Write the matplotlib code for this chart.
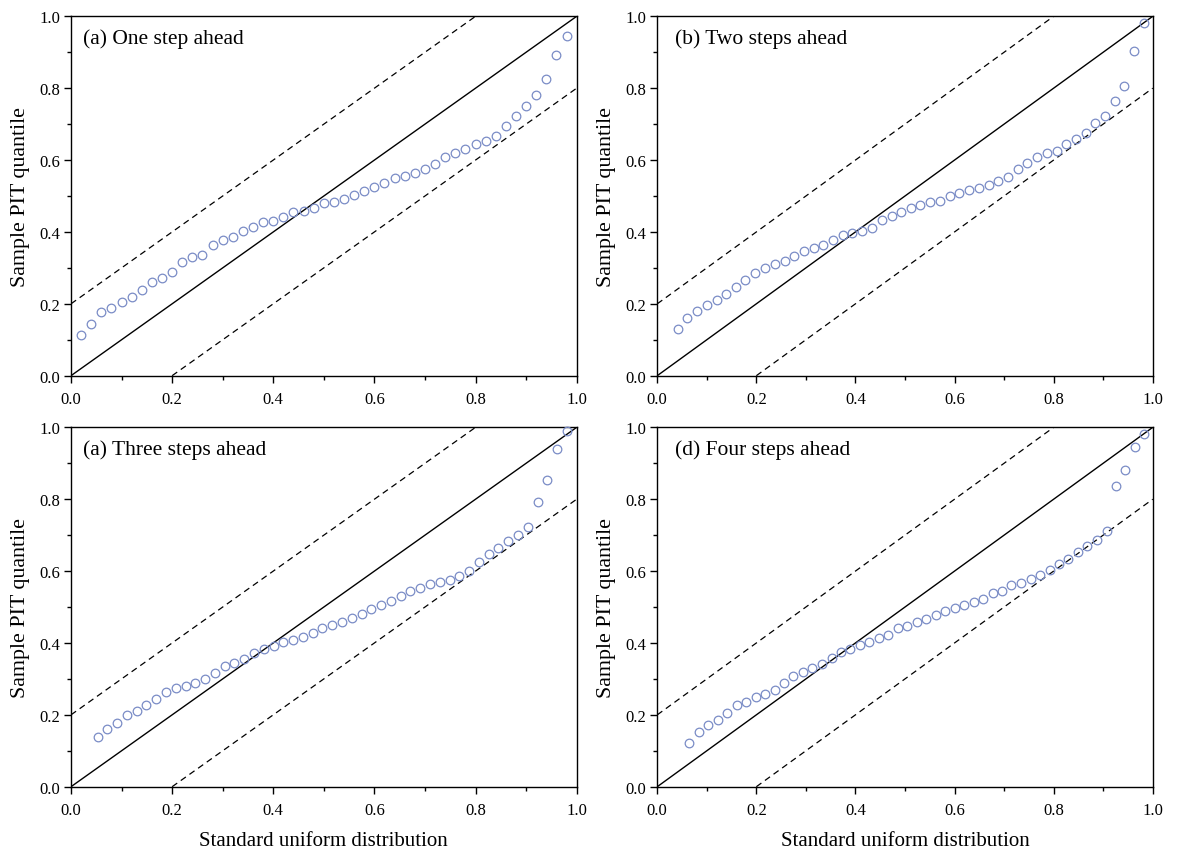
import matplotlib
matplotlib.use("Agg")
import matplotlib.pyplot as plt
from matplotlib.ticker import MultipleLocator

plt.rcParams['font.family'] = ['Liberation Serif', 'DejaVu Serif']
plt.rcParams['mathtext.fontset'] = 'stix'

# panel titles
titles = ["(a) One step ahead", "(b) Two steps ahead",
          "(a) Three steps ahead", "(d) Four steps ahead"]

# uniform quantile (x) and sample PIT quantile (y)
x_one = [0.020, 0.040, 0.060, 0.080, 0.100, 0.120, 0.140, 0.160, 0.180, 0.200,
         0.220, 0.240, 0.260, 0.280, 0.300, 0.320, 0.340, 0.360, 0.380, 0.400,
         0.420, 0.440, 0.460, 0.480, 0.500, 0.520, 0.540, 0.560, 0.580, 0.600,
         0.620, 0.640, 0.660, 0.680, 0.700, 0.720, 0.740, 0.760, 0.780, 0.800,
         0.820, 0.840, 0.860, 0.880, 0.900, 0.920, 0.940, 0.960, 0.980]
y_one = [0.113, 0.144, 0.176, 0.188, 0.204, 0.220, 0.238, 0.260, 0.271, 0.289,
         0.315, 0.329, 0.336, 0.364, 0.377, 0.387, 0.402, 0.415, 0.427, 0.430,
         0.442, 0.456, 0.459, 0.468, 0.480, 0.484, 0.492, 0.504, 0.514, 0.524,
         0.536, 0.550, 0.557, 0.563, 0.574, 0.588, 0.609, 0.619, 0.631, 0.644,
         0.652, 0.667, 0.694, 0.722, 0.751, 0.781, 0.827, 0.892, 0.944]

x_two = [0.041, 0.061, 0.080, 0.100, 0.120, 0.139, 0.159, 0.178, 0.198, 0.218,
         0.237, 0.257, 0.277, 0.296, 0.316, 0.335, 0.355, 0.375, 0.394, 0.414,
         0.433, 0.453, 0.473, 0.492, 0.512, 0.531, 0.551, 0.571, 0.590, 0.610,
         0.629, 0.649, 0.669, 0.688, 0.708, 0.728, 0.747, 0.767, 0.786, 0.806,
         0.826, 0.845, 0.865, 0.884, 0.904, 0.924, 0.943, 0.963, 0.983]
y_two = [0.130, 0.160, 0.179, 0.197, 0.212, 0.227, 0.246, 0.266, 0.287, 0.301,
         0.310, 0.320, 0.332, 0.346, 0.356, 0.365, 0.378, 0.391, 0.397, 0.403,
         0.412, 0.434, 0.445, 0.455, 0.467, 0.476, 0.482, 0.487, 0.500, 0.508,
         0.517, 0.521, 0.531, 0.543, 0.552, 0.575, 0.592, 0.608, 0.620, 0.625,
         0.645, 0.659, 0.674, 0.703, 0.724, 0.764, 0.805, 0.903, 0.981]

x_three = [0.053, 0.072, 0.091, 0.111, 0.130, 0.149, 0.169, 0.188, 0.207, 0.227,
           0.246, 0.265, 0.285, 0.304, 0.323, 0.343, 0.362, 0.381, 0.401, 0.420,
           0.439, 0.459, 0.478, 0.497, 0.517, 0.536, 0.555, 0.575, 0.594, 0.613,
           0.633, 0.652, 0.671, 0.691, 0.710, 0.729, 0.749, 0.768, 0.787, 0.807,
           0.826, 0.845, 0.865, 0.884, 0.903, 0.923, 0.942, 0.961, 0.981]
y_three = [0.138, 0.162, 0.178, 0.199, 0.210, 0.228, 0.245, 0.263, 0.275, 0.281,
           0.290, 0.301, 0.317, 0.336, 0.345, 0.355, 0.372, 0.383, 0.392, 0.403,
           0.408, 0.418, 0.429, 0.442, 0.450, 0.458, 0.470, 0.481, 0.494, 0.507,
           0.517, 0.530, 0.544, 0.553, 0.564, 0.570, 0.576, 0.587, 0.601, 0.624,
           0.648, 0.663, 0.685, 0.700, 0.724, 0.791, 0.853, 0.940, 0.989]

x_four = [0.065, 0.084, 0.103, 0.122, 0.141, 0.160, 0.179, 0.199, 0.218, 0.237,
          0.256, 0.275, 0.294, 0.313, 0.333, 0.352, 0.371, 0.390, 0.409, 0.428,
          0.447, 0.466, 0.486, 0.505, 0.524, 0.543, 0.562, 0.581, 0.600, 0.620,
          0.639, 0.658, 0.677, 0.696, 0.715, 0.734, 0.754, 0.773, 0.792, 0.811,
          0.830, 0.849, 0.868, 0.887, 0.907, 0.926, 0.945, 0.964, 0.983]
y_four = [0.123, 0.151, 0.172, 0.186, 0.204, 0.227, 0.237, 0.250, 0.257, 0.270,
          0.288, 0.308, 0.320, 0.331, 0.341, 0.359, 0.376, 0.382, 0.393, 0.403,
          0.414, 0.423, 0.441, 0.448, 0.459, 0.468, 0.478, 0.488, 0.496, 0.507,
          0.514, 0.523, 0.540, 0.544, 0.560, 0.568, 0.579, 0.590, 0.603, 0.621,
          0.635, 0.652, 0.671, 0.687, 0.712, 0.838, 0.882, 0.944, 0.981]

xs = [x_one, x_two, x_three, x_four]
ys = [y_one, y_two, y_three, y_four]

band = 0.2  # Kolmogorov band half-width

fig = plt.figure(figsize=(11.87, 8.54), dpi=100)

# axes boxes in figure fraction [left, bottom, width, height]
boxes = [[0.0598, 0.5589, 0.4260, 0.4208],
         [0.5537, 0.5589, 0.4174, 0.4208],
         [0.0598, 0.0776, 0.4260, 0.4208],
         [0.5537, 0.0776, 0.4174, 0.4208]]
title_x = [0.024, 0.036, 0.024, 0.036]
ylab_x = [-0.081, -0.083, -0.081, -0.083]

for i in range(4):
    ax = fig.add_axes(boxes[i])

    ax.plot([0, 1], [0, 1], color='k', lw=1.0)
    ax.plot([0, 1 - band], [band, 1], color='k', lw=0.9, ls=(0, (5, 3.5)))
    ax.plot([band, 1], [0, 1 - band], color='k', lw=0.9, ls=(0, (5, 3.5)))

    ax.plot(xs[i], ys[i], ls='', marker='o', ms=6.2, mfc='none',
            mec='#7a8cc6', mew=0.9, clip_on=False, zorder=3)

    ax.set_xlim(0, 1)
    ax.set_ylim(0, 1)
    ax.xaxis.set_major_locator(MultipleLocator(0.2))
    ax.xaxis.set_minor_locator(MultipleLocator(0.1))
    ax.yaxis.set_major_locator(MultipleLocator(0.2))
    ax.yaxis.set_minor_locator(MultipleLocator(0.1))
    ax.xaxis.set_major_formatter(plt.FormatStrFormatter('%.1f'))
    ax.yaxis.set_major_formatter(plt.FormatStrFormatter('%.1f'))
    ax.tick_params(which='both', direction='out', top=False, right=False,
                   labelsize=12, width=1.0, colors='k')
    ax.tick_params(which='major', length=4.8)
    ax.tick_params(which='minor', length=3)
    ax.tick_params(axis='x', which='major', pad=6.5)
    ax.tick_params(axis='y', which='major', pad=3.2)
    for s in ax.spines.values():
        s.set_linewidth(1.0)

    ax.text(title_x[i], 0.94, titles[i], transform=ax.transAxes,
            fontsize=15.5, ha='left', va='center')

    ax.set_ylabel('Sample PIT quantile', fontsize=15.8)
    ax.yaxis.set_label_coords(ylab_x[i], 0.5)
    if i >= 2:
        ax.set_xlabel('Standard uniform distribution', fontsize=15)
        ax.xaxis.set_label_coords(0.5, -0.123)

fig.savefig('out.png', dpi=100)
